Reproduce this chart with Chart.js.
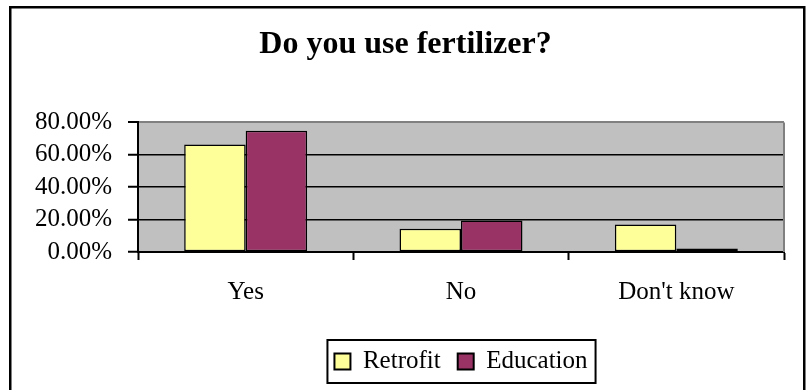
<!DOCTYPE html>
<html>
<head>
<meta charset="utf-8">
<title>Do you use fertilizer?</title>
<script src="https://cdn.jsdelivr.net/npm/chart.js@4/dist/chart.umd.min.js"></script>
<style>
    html, body { margin: 0; padding: 0; background: #fff; }
    canvas { display: block; }
</style>
</head>
<body>
<canvas id="fertChart" width="811" height="390"></canvas>
<script>
// answers and share of respondents per group
const answers = ["Yes", "No", "Don't know"];
const retrofit = [66.3, 14.4, 16.9];
const education = [74.9, 19.4, 2.1];
const yTicks = [0, 20, 40, 60, 80];

const SERIF = "'Liberation Serif', 'Times New Roman', serif";

// gray plot background plus the gray top/right edge, Excel 97 style
const plotFrame = {
    id: 'plotFrame',
    beforeDraw(chart) {
        const a = chart.chartArea;
        const c = chart.ctx;
        c.save();
        c.fillStyle = '#c0c0c0';
        c.fillRect(a.left, a.top, a.right - a.left, a.bottom - a.top);
        c.restore();
    },
    beforeDatasetsDraw(chart) {
        const a = chart.chartArea;
        const c = chart.ctx;
        c.save();
        c.strokeStyle = '#808080';
        c.lineWidth = 2;
        c.beginPath();
        c.moveTo(a.right, a.top);
        c.lineTo(a.right, a.bottom);
        c.stroke();
        c.restore();
    },
    afterDraw(chart) {
        const c = chart.ctx;
        c.save();
        // outer chart border
        c.strokeStyle = '#000';
        c.lineWidth = 2.5;
        c.strokeRect(10.25, 7.25, 794, 400);

        // frame around the legend items
        const boxes = chart.legend.legendHitBoxes;
        if (boxes && boxes.length) {
            let l = Infinity, r = -Infinity, cy = 0;
            boxes.forEach(b => {
                l = Math.min(l, b.left);
                r = Math.max(r, b.left + b.width);
                cy += b.top + b.height / 2;
            });
            cy /= boxes.length;
            c.lineWidth = 2;
            c.strokeRect(l - 7, cy - 21.5, (r - l) + 15, 43);
        }
        c.restore();
    }
};

new Chart(document.getElementById('fertChart'), {
    type: 'bar',
    data: {
        labels: answers,
        datasets: [{
            label: 'Retrofit',
            data: retrofit,
            backgroundColor: '#ffff99',
            borderColor: '#000',
            borderWidth: 1.5,
            borderSkipped: false
        }, {
            label: 'Education',
            data: education,
            backgroundColor: '#993366',
            borderColor: '#000',
            borderWidth: 1.5,
            borderSkipped: false
        }]
    },
    options: {
        responsive: false,
        animation: false,
        devicePixelRatio: 1,
        layout: {
            padding: { left: 0, right: 0, top: 0, bottom: 6 }
        },
        datasets: {
            bar: {
                categoryPercentage: 0.571,
                barPercentage: 1.0
            }
        },
        plugins: {
            title: {
                display: true,
                text: 'Do you use fertilizer?',
                color: '#000',
                font: { family: SERIF, size: 32, weight: 'bold' },
                padding: { top: 26, bottom: 58 }
            },
            legend: {
                position: 'bottom',
                fullSize: false,
                labels: {
                    color: '#000',
                    font: { family: SERIF, size: 25 },
                    boxWidth: 16,
                    boxHeight: 16,
                    padding: 17,
                    generateLabels(chart) {
                        return chart.data.datasets.map((ds, i) => ({
                            text: ds.label,
                            fillStyle: ds.backgroundColor,
                            strokeStyle: '#000',
                            lineWidth: 2,
                            fontColor: '#000',
                            datasetIndex: i
                        }));
                    }
                }
            },
            tooltip: { enabled: false }
        },
        scales: {
            x: {
                grid: {
                    offset: true,
                    drawOnChartArea: false,
                    drawTicks: true,
                    tickLength: 8,
                    tickColor: '#000',
                    tickWidth: 2
                },
                border: { color: '#000', width: 2 },
                ticks: {
                    color: '#000',
                    font: { family: SERIF, size: 25 },
                    padding: 17,
                    maxRotation: 0
                },
                afterFit(scale) { scale.height = 80; }
            },
            y: {
                min: 0,
                max: 80,
                afterBuildTicks(scale) {
                    scale.ticks = yTicks.map(v => ({ value: v }));
                },
                grid: {
                    color: ctx => (ctx.tick && ctx.tick.value === 80) ? '#808080' : '#000',
                    lineWidth: ctx => (ctx.tick && ctx.tick.value === 80) ? 2 : 1.5,
                    tickColor: '#000',
                    tickLength: 10,
                    tickWidth: 2
                },
                border: { color: '#000', width: 2 },
                ticks: {
                    color: '#000',
                    font: { family: SERIF, size: 25 },
                    padding: 16,
                    autoSkip: false,
                    callback: v => v.toFixed(2) + '%'
                },
                afterFit(scale) { scale.width = 138; }
            },
            // empty strip on the right keeps the plot clear of the outer border
            yRight: {
                position: 'right',
                display: true,
                grid: { display: false },
                border: { display: false },
                ticks: { display: false },
                afterFit(scale) { scale.width = 27; }
            }
        }
    },
    plugins: [plotFrame]
});
</script>
</body>
</html>
